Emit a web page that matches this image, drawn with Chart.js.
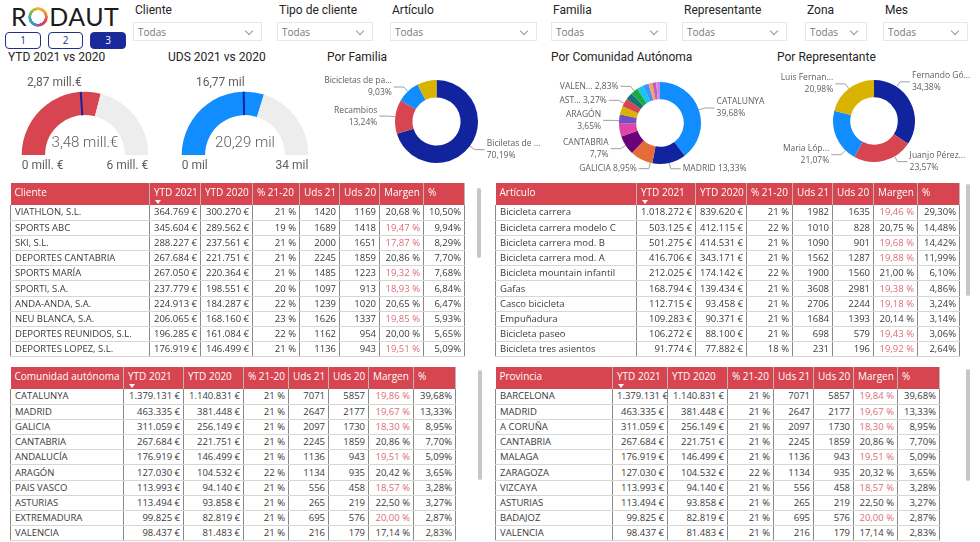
<!DOCTYPE html>
<html lang="es">
<head>
<meta charset="utf-8">
<title>RODAUT - Ventas</title>
<script src="https://cdn.jsdelivr.net/npm/chart.js@4.4.1/dist/chart.umd.min.js"></script>
<style>
body { margin: 0; background: #fff; font-family: "Open Sans", sans-serif; }
#page { position: relative; width: 980px; height: 542px; overflow: hidden; background: #fff; }
.abs { position: absolute; }
.titulo { position: absolute; font-family: Roboto, sans-serif; font-size: 12px; color: #252423; line-height: 14px; white-space: nowrap; }
.logo { position: absolute; left: 11px; top: 1px; font-family: Lato, sans-serif; font-weight: 400; font-size: 25px; letter-spacing: 0.5px; color: #1b1b1b; line-height: 30px; }
.anillo { display: inline-block; width: 20px; height: 20px; border-radius: 50%; margin: 0 1px 0 1px; vertical-align: -1px;
  background: conic-gradient(#f2b62c 0deg, #f0a03a 50deg, #e8484f 110deg, #c4427e 160deg, #3f8fd6 210deg, #39a9b5 260deg, #8cc04a 310deg, #f2b62c 360deg);
  -webkit-mask: radial-gradient(circle, transparent 6.5px, #000 7px); mask: radial-gradient(circle, transparent 6.5px, #000 7px); }
.boton { position: absolute; top: 32px; height: 15px; border: 1px solid #1f2f8c; border-radius: 4px; font-size: 10px; line-height: 15px; text-align: center; color: #1f2f8c; background: #fff; }
.boton.on { background: #1a2a9c; color: #fff; }
.caja { position: absolute; top: 22px; height: 19px; border: 1px solid #e8e8e8; font-size: 10px; line-height: 19px; color: #777; padding-left: 4px; box-sizing: border-box; }
.caja::after { content: ""; position: absolute; right: 9px; top: 5px; width: 5px; height: 5px; border-right: 1px solid #999; border-bottom: 1px solid #999; transform: rotate(45deg); }
.tabla { position: absolute; overflow: hidden; }
table { border-collapse: collapse; table-layout: fixed; font-size: 9.5px; color: #3b3a39; }
th { background: #D64550; color: #fff; font-weight: 400; font-size: 10px; height: 22px; padding: 2px 3px 0 4px; text-align: left; vertical-align: top; border-right: 1px solid rgba(0,0,0,0.28); white-space: nowrap; overflow: hidden; box-sizing: border-box; }
td { height: 15.2px; padding: 0 3px 0 4px; line-height: 14px; white-space: nowrap; overflow: hidden; border-left: 1px solid #8a8886; border-right: 1px solid #8a8886; border-bottom: 1px solid #d6d6d6; box-sizing: border-box; }
td.num { text-align: right; }
td.alerta { color: #DD6B7A; }
.flecha { display: block; width: 0; height: 0; margin-top: 1px; margin-left: 1px; border-left: 3.5px solid transparent; border-right: 3.5px solid transparent; border-top: 4px solid #fff; }
.scroll { position: absolute; width: 4px; border-radius: 2px; background: #c8c6c4; }
</style>
</head>
<body>
<div id="page">
  <div class="logo">R<span class="anillo"></span>DAUT</div>
  <div class="boton" style="left:5px;width:34px;">1</div>
  <div class="boton" style="left:48px;width:33px;">2</div>
  <div class="boton on" style="left:90px;width:34px;">3</div>

  <div id="filtros"></div>

  <div class="titulo" style="left:8px;top:50px;">YTD 2021 vs 2020</div>
  <div class="titulo" style="left:168px;top:50px;">UDS 2021 vs 2020</div>
  <div class="titulo" style="left:327px;top:50px;">Por Familia</div>
  <div class="titulo" style="left:551px;top:50px;">Por Comunidad Autónoma</div>
  <div class="titulo" style="left:777px;top:50px;">Por Representante</div>

  <canvas id="gaugeYtd" class="abs" style="left:0;top:62px;"></canvas>
  <canvas id="gaugeUds" class="abs" style="left:160px;top:62px;"></canvas>
  <canvas id="donaFamilia" class="abs" style="left:318px;top:62px;"></canvas>
  <canvas id="donaComunidad" class="abs" style="left:548px;top:62px;"></canvas>
  <canvas id="donaRepresentante" class="abs" style="left:772px;top:62px;"></canvas>

  <div id="tablaCliente" class="tabla" style="left:10px;top:183px;height:174px;"></div>
  <div id="tablaArticulo" class="tabla" style="left:495px;top:183px;height:174px;"></div>
  <div id="tablaComunidad" class="tabla" style="left:10px;top:367px;height:175px;"></div>
  <div id="tablaProvincia" class="tabla" style="left:495px;top:367px;height:175px;"></div>

  <div class="scroll" style="left:477px;top:188px;height:70px;"></div>
  <div class="scroll" style="left:966px;top:184px;height:112px;"></div>
  <div class="scroll" style="left:478px;top:370px;height:110px;"></div>
  <div class="scroll" style="left:966px;top:369px;height:112px;"></div>
</div>

<script>
// ---- filtros (slicers)
const filtros = ['Cliente', 'Tipo de cliente', 'Artículo', 'Familia', 'Representante', 'Zona', 'Mes'];
const filtrosX = [133, 277, 390, 551, 682, 805, 883];
const filtrosW = [129, 96, 147, 116, 105, 62, 85];

// ---- gauges
const gaugeValor = [3.48, 20.29];
const gaugeObjetivo = [2.87, 16.77];
const gaugeMin = [0, 0];
const gaugeMax = [6, 34];
const gaugeUnidad = ['mill.€', 'mil'];
const gaugeUnidadEje = ['mill. €', 'mil'];

// ---- donuts
const familias = ['Biciletas de carretera', 'Recambios', 'Bicicletas de paseo', 'Accesorios'];
const familiaPct = [70.19, 13.24, 9.03, 7.54];
const familiaEtiquetas = ['Biciletas de ...', 'Recambios', 'Bicicletas de pa...', null];

const representantes = ['Fernando Gómez', 'Juanjo Pérez', 'Maria López', 'Luis Fernández'];
const representantePct = [34.38, 23.57, 21.07, 20.98];
const representanteEtiquetas = ['Fernando Gó...', 'Juanjo Pérez...', 'Maria Lóp...', 'Luis Fernan...'];
const representanteAjusteY = [-17, -5, 15, 0]; // label nudges, as the report spreads them

const comunidadesResto = ['CASTILLA Y LEÓN', 'MURCIA', 'BALEARES', 'CASTILLA-LA MANCHA', 'NAVARRA'];
const comunidadesRestoPct = [2.55, 2.3, 1.5, 1.5, 1.5];
const comunidadEtiquetas = ['CATALUNYA', 'MADRID', 'GALICIA', 'CANTABRIA', null, 'ARAGÓN', null, 'AST...', null, 'VALEN...'];
const comunidadUnaLinea = [1, 2, 7, 9];

const paleta = ['#118DFF', '#12239E', '#E66C37', '#6B007B', '#E044A7', '#744EC2', '#D9B300', '#D64550',
                '#197278', '#1AAB40', '#15C6F4', '#4092FF', '#FFA058', '#BE5DC9', '#C98BE0'];
const paletaCuatro = ['#12239E', '#D64550', '#118DFF', '#D9B300'];

// ---- tabla clientes
const clientes = ['VIATHLON, S.L.', 'SPORTS ABC', 'SKI, S.L.', 'DEPORTES CANTABRIA', 'SPORTS MARÍA', 'SPORTI, S.A.', 'ANDA-ANDA, S.A.', 'NEU BLANCA, S.A.', 'DEPORTES REUNIDOS, S.L.', 'DEPORTES LOPEZ, S.L.'];
const cliYtd21 = [364769, 345604, 288227, 267684, 267050, 237779, 224913, 206065, 196285, 176919];
const cliYtd20 = [300270, 289562, 237561, 221751, 220364, 198551, 184287, 168160, 161084, 146499];
const cliVar = [21, 19, 21, 21, 21, 20, 22, 23, 22, 21];
const cliUds21 = [1420, 1689, 2000, 2245, 1485, 1097, 1239, 1626, 1162, 1136];
const cliUds20 = [1169, 1418, 1651, 1859, 1223, 913, 1020, 1337, 954, 943];
const cliMargen = [20.68, 19.47, 17.87, 20.86, 19.32, 18.93, 20.65, 19.85, 20.00, 19.51];
const cliAlerta = [false, true, true, false, true, true, false, true, false, true];
const cliPeso = [10.50, 9.94, 8.29, 7.70, 7.68, 6.84, 6.47, 5.93, 5.65, 5.09];

// ---- tabla articulos
const articulos = ['Bicicleta carrera', 'Bicicleta carrera modelo C', 'Bicicleta carrera mod. B', 'Bicicleta carrera mod. A', 'Bicicleta mountain infantil', 'Gafas', 'Casco bicicleta', 'Empuñadura', 'Bicicleta paseo', 'Bicicleta tres asientos'];
const artYtd21 = [1018272, 503125, 501275, 416706, 212025, 168794, 112715, 109283, 106272, 91774];
const artYtd20 = [839620, 412115, 414531, 343171, 174142, 139434, 93458, 90371, 88100, 77882];
const artVar = [21, 22, 21, 21, 22, 21, 21, 21, 21, 18];
const artUds21 = [1982, 1010, 1090, 1562, 1900, 3608, 2706, 1684, 698, 231];
const artUds20 = [1635, 828, 901, 1287, 1560, 2981, 2244, 1393, 579, 196];
const artMargen = [19.46, 20.75, 19.68, 19.88, 21.00, 19.38, 19.18, 20.14, 19.43, 19.92];
const artAlerta = [true, false, true, true, false, true, true, false, true, true];
const artPeso = [29.30, 14.48, 14.42, 11.99, 6.10, 4.86, 3.24, 3.14, 3.06, 2.64];

// ---- tabla comunidades
const comunidades = ['CATALUNYA', 'MADRID', 'GALICIA', 'CANTABRIA', 'ANDALUCÍA', 'ARAGÓN', 'PAIS VASCO', 'ASTURIAS', 'EXTREMADURA', 'VALENCIA'];
const comYtd21 = [1379131, 463335, 311059, 267684, 176919, 127030, 113993, 113494, 99825, 98437];
const comYtd20 = [1140831, 381448, 256149, 221751, 146499, 104532, 94140, 93858, 82819, 81483];
const comVar = [21, 21, 21, 21, 21, 22, 21, 21, 21, 21];
const comUds21 = [7071, 2647, 2097, 2245, 1136, 1134, 556, 265, 695, 216];
const comUds20 = [5857, 2177, 1730, 1859, 943, 935, 458, 219, 576, 179];
const comMargen = [19.86, 19.67, 18.30, 20.86, 19.51, 20.42, 18.57, 22.50, 20.00, 17.14];
const comAlerta = [true, true, true, false, true, false, true, false, true, false];
const comPeso = [39.68, 13.33, 8.95, 7.70, 5.09, 3.65, 3.28, 3.27, 2.87, 2.83];

// ---- tabla provincias
const provincias = ['BARCELONA', 'MADRID', 'A CORUÑA', 'CANTABRIA', 'MALAGA', 'ZARAGOZA', 'VIZCAYA', 'ASTURIAS', 'BADAJOZ', 'VALENCIA'];
const proYtd21 = [1379131, 463335, 311059, 267684, 176919, 127030, 113993, 113494, 99825, 98437];
const proYtd20 = [1140831, 381448, 256149, 221751, 146499, 104532, 94140, 93858, 82819, 81483];
const proVar = [21, 21, 21, 21, 21, 22, 21, 21, 21, 21];
const proUds21 = [7071, 2647, 2097, 2245, 1136, 1134, 556, 265, 695, 216];
const proUds20 = [5857, 2177, 1730, 1859, 943, 935, 458, 219, 576, 179];
const proMargen = [19.84, 19.67, 18.30, 20.86, 19.51, 20.32, 18.57, 22.50, 20.00, 17.14];
const proAlerta = [true, true, true, false, true, false, true, false, true, false];
const proPeso = [39.68, 13.33, 8.95, 7.70, 5.09, 3.65, 3.28, 3.27, 2.87, 2.83];

const cabeceras = ['YTD 2021', 'YTD 2020', '% 21-20', 'Uds 21', 'Uds 20', 'Margen', '%'];

// ---- formatos
function miles(n) { return String(n).replace(/\B(?=(\d{3})+(?!\d))/g, '.'); }
function coma(v, d) { return v.toFixed(d).replace('.', ','); }
function pctCorto(v) { return String(Number(v.toFixed(2))).replace('.', ',') + '%'; }

// slicers
const filtrosDiv = document.getElementById('filtros');
filtros.forEach((f, i) => {
    filtrosDiv.insertAdjacentHTML('beforeend',
        `<div class="titulo" style="left:${filtrosX[i] + 2}px;top:3px;">${f}</div>` +
        `<div class="caja" style="left:${filtrosX[i]}px;width:${filtrosW[i]}px;">Todas</div>`);
});

// tables
function tabla(id, primera, anchos, nombres, y21, y20, vari, u21, u20, margen, alerta, peso) {
    let html = '<table style="width:' + anchos.reduce((a, b) => a + b, 0) + 'px"><colgroup>';
    anchos.forEach(w => html += `<col style="width:${w}px">`);
    html += '</colgroup><tr><th>' + primera + '</th>';
    cabeceras.forEach((c, i) => {
        html += '<th>' + c + (i === 0 ? '<span class="flecha"></span>' : '') + '</th>';
    });
    html += '</tr>';
    nombres.forEach((n, i) => {
        html += '<tr>' +
            `<td>${n}</td>` +
            `<td class="num">${miles(y21[i])} €</td>` +
            `<td class="num">${miles(y20[i])} €</td>` +
            `<td class="num">${vari[i]} %</td>` +
            `<td class="num">${u21[i]}</td>` +
            `<td class="num">${u20[i]}</td>` +
            `<td class="num${alerta[i] ? ' alerta' : ''}">${coma(margen[i], 2)} %</td>` +
            `<td class="num">${coma(peso[i], 2)}%</td></tr>`;
    });
    html += '</table>';
    document.getElementById(id).innerHTML = html;
}

tabla('tablaCliente', 'Cliente', [139, 51, 52, 47, 40, 40, 44, 41],
      clientes, cliYtd21, cliYtd20, cliVar, cliUds21, cliUds20, cliMargen, cliAlerta, cliPeso);
tabla('tablaArticulo', 'Artículo', [141, 59, 51, 46, 40, 41, 44, 42],
      articulos, artYtd21, artYtd20, artVar, artUds21, artUds20, artMargen, artAlerta, artPeso);
tabla('tablaComunidad', 'Comunidad autónoma', [113, 60, 60, 45, 40, 40, 45, 42],
      comunidades, comYtd21, comYtd20, comVar, comUds21, comUds20, comMargen, comAlerta, comPeso);
tabla('tablaProvincia', 'Provincia', [117, 55, 60, 46, 40, 40, 44, 42],
      provincias, proYtd21, proYtd20, proVar, proUds21, proUds20, proMargen, proAlerta, proPeso);

// ---- charts
Chart.defaults.animation = false;
Chart.defaults.font.family = '"Open Sans", sans-serif';

const gaugePlugin = {
    id: 'gauge',
    afterDatasetsDraw(chart, args, o) {
        const arc = chart.getDatasetMeta(0).data[0];
        const x = arc.x, y = arc.y, ri = arc.innerRadius, ro = arc.outerRadius;
        const ctx = chart.ctx;
        const ang = arc.startAngle + Math.PI * (o.target - o.min) / (o.max - o.min);
        ctx.save();
        ctx.strokeStyle = '#12239E';
        ctx.lineWidth = 2;
        ctx.beginPath();
        ctx.moveTo(x + Math.cos(ang) * ri, y + Math.sin(ang) * ri);
        ctx.lineTo(x + Math.cos(ang) * ro, y + Math.sin(ang) * ro);
        ctx.stroke();
        ctx.fillStyle = '#605E5C';
        ctx.textBaseline = 'middle';
        ctx.font = '12px Roboto';
        ctx.textAlign = 'right';
        ctx.fillText(o.targetText, x + Math.cos(ang) * ro + 1, y - ro - 9);
        ctx.textAlign = 'left';
        ctx.fillText(o.minText, x - ro, y + 11);
        ctx.textAlign = 'right';
        ctx.fillText(o.maxText, x + ro, y + 11);
        ctx.font = '300 15px Roboto';
        ctx.textAlign = 'center';
        ctx.fillText(o.valueText, x, y - 12);
        ctx.restore();
    }
};

// outside labels with leader lines, hugging the ring
const etiquetasPlugin = {
    id: 'etiquetas',
    afterDatasetsDraw(chart, args, opts) {
        const meta = chart.getDatasetMeta(0);
        const values = chart.data.datasets[0].data;
        const ctx = chart.ctx;
        const items = [];
        meta.data.forEach((arc, i) => {
            const name = opts.labels[i];
            if (!name) return;
            const mid = (arc.startAngle + arc.endAngle) / 2;
            const r = arc.outerRadius;
            const one = (opts.oneLine || []).includes(i);
            items.push({
                arc: arc, mid: mid,
                y: arc.y + Math.sin(mid) * (r + 6) + ((opts.dy || [])[i] || 0),
                right: Math.cos(mid) >= 0,
                lines: one ? [name + ' ' + pctCorto(values[i])] : [name, pctCorto(values[i])]
            });
        });
        [true, false].forEach(side => {
            const list = items.filter(it => it.right === side).sort((a, b) => a.y - b.y);
            for (let k = 1; k < list.length; k++) {
                const min = (list[k - 1].lines.length + list[k].lines.length) * 6 + 2;
                if (list[k].y - list[k - 1].y < min) list[k].y = list[k - 1].y + min;
            }
        });
        ctx.save();
        ctx.font = '8.5px "Open Sans"';
        ctx.textBaseline = 'middle';
        items.forEach(it => {
            const a = it.arc, r = a.outerRadius, R = r + 6;
            const dir = it.right ? 1 : -1;
            const dy = it.y - a.y;
            const ex = a.x + dir * Math.sqrt(Math.max(R * R - dy * dy, 16));
            let ang = Math.atan2(dy, ex - a.x);
            // keep the leader start inside the slice
            let t = ang;
            while (t < a.startAngle) t += 2 * Math.PI;
            while (t > a.startAngle + 2 * Math.PI) t -= 2 * Math.PI;
            if (t > a.endAngle) ang = it.mid;
            const ax = a.x + Math.cos(ang) * r, ay = a.y + Math.sin(ang) * r;
            const hx = ex + dir * 10;
            ctx.strokeStyle = '#A19F9D';
            ctx.lineWidth = 1;
            ctx.beginPath();
            ctx.moveTo(ax, ay);
            ctx.lineTo(ex, it.y);
            ctx.lineTo(hx, it.y);
            ctx.stroke();
            ctx.fillStyle = '#605E5C';
            ctx.textAlign = it.right ? 'left' : 'right';
            const h = it.lines.length * 12;
            it.lines.forEach((txt, j) => ctx.fillText(txt, hx + dir * 2, it.y - h / 2 + 6 + j * 12));
        });
        ctx.restore();
    }
};

function sizeCanvas(id, w, h) {
    const c = document.getElementById(id);
    c.width = w; c.height = h;
    c.style.width = w + 'px'; c.style.height = h + 'px';
    return c;
}

function gauge(id, i, color) {
    const w = 170, h = 118, cx = 85, cy = 93, r = 63.3;
    const c = sizeCanvas(id, w, h);
    new Chart(c, {
        type: 'doughnut',
        data: {
            labels: ['Valor', 'Resto'],
            datasets: [{
                data: [gaugeValor[i] - gaugeMin[i], gaugeMax[i] - gaugeValor[i]],
                backgroundColor: [color, '#EDEDED'],
                borderWidth: 0
            }]
        },
        options: {
            responsive: false,
            rotation: -90,
            circumference: 180,
            cutout: '63%',
            layout: { padding: { left: cx - r, right: w - cx - r, top: cy - r, bottom: h - cy } },
            plugins: {
                legend: { display: false },
                tooltip: { enabled: false },
                gauge: {
                    min: gaugeMin[i], max: gaugeMax[i], target: gaugeObjetivo[i],
                    targetText: coma(gaugeObjetivo[i], 2) + ' ' + gaugeUnidad[i],
                    valueText: coma(gaugeValor[i], 2) + ' ' + gaugeUnidad[i],
                    minText: gaugeMin[i] + ' ' + gaugeUnidadEje[i],
                    maxText: gaugeMax[i] + ' ' + gaugeUnidadEje[i]
                }
            }
        },
        plugins: [gaugePlugin]
    });
}

function dona(id, w, h, cx, cy, r, labels, values, colors, etiquetas, unaLinea, ajuste) {
    const c = sizeCanvas(id, w, h);
    new Chart(c, {
        type: 'doughnut',
        data: {
            labels: labels,
            datasets: [{ data: values, backgroundColor: colors, borderWidth: 0 }]
        },
        options: {
            responsive: false,
            cutout: '58%',
            layout: { padding: { left: cx - r, right: w - cx - r, top: cy - r, bottom: h - cy - r } },
            plugins: {
                legend: { display: false },
                tooltip: { enabled: false },
                etiquetas: { labels: etiquetas, oneLine: unaLinea, dy: ajuste }
            }
        },
        plugins: [etiquetasPlugin]
    });
}

gauge('gaugeYtd', 0, '#D64550');
gauge('gaugeUds', 1, '#118DFF');

dona('donaFamilia', 227, 118, 118.5, 59.5, 41.5, familias, familiaPct, paletaCuatro, familiaEtiquetas, [], []);
dona('donaComunidad', 222, 118, 112, 61, 41,
     comunidades.concat(comunidadesResto), comPeso.concat(comunidadesRestoPct),
     paleta, comunidadEtiquetas, comunidadUnaLinea, []);
dona('donaRepresentante', 208, 118, 102, 59, 41, representantes, representantePct, paletaCuatro,
     representanteEtiquetas, [], representanteAjusteY);
</script>
</body>
</html>
